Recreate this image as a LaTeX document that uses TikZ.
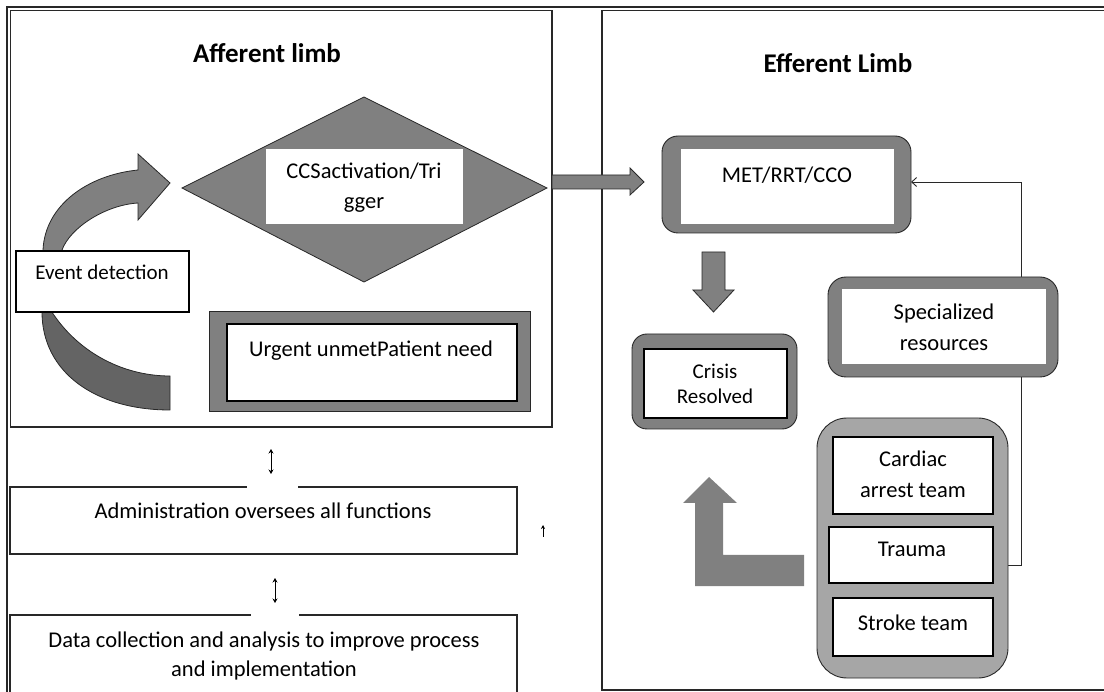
\documentclass[tikz,border=0pt]{standalone}
\usepackage{fontspec}
\setmainfont{Carlito}
\usetikzlibrary{arrows.meta,calc}

\definecolor{gmid}{RGB}{128,128,128}
\definecolor{gdark}{RGB}{100,100,100}
\definecolor{glight}{RGB}{166,166,166}
\definecolor{edge}{RGB}{40,40,40}

% rectangle node given by its corners: name, style, x1, y1, x2, y2
\newcommand\boxat[6]{%
  \node[#2,minimum width={#5-#3},minimum height={#6-#4}] (#1)
    at ({(#3+#5)/2},{(#4+#6)/2}) {};}

\begin{document}
\begin{tikzpicture}[x=1pt,y=-1pt,
  every node/.style={inner sep=0pt,outer sep=0pt},
  txt/.style={anchor=base,align=center,font=\fontsize{22.5}{30}\selectfont},
  heading/.style={anchor=base,font=\fontsize{27}{30}\selectfont\bfseries},
  frame/.style={draw=edge,line width=1.1pt},
  whitebox/.style={fill=white,draw=black,line width=1.2pt},
  plainbox/.style={fill=white},
  shell/.style={fill=gmid,draw=edge,line width=0.9pt,rounded corners=15pt},
  block/.style={fill=gmid,draw=edge,line width=0.8pt,line join=miter},
  fbline/.style={draw=edge,line width=0.9pt,-{Straight Barb[length=5pt,width=9pt]}},
  dbl/.style={draw=black,line width=0.8pt,{Stealth[length=4.5pt,width=5pt]}-{Stealth[length=4.5pt,width=5pt]}},
]
\useasboundingbox (0,0) rectangle (1104,692);
\clip (0,0) rectangle (1104,692);

% outer frame and the two panels
\draw[frame] (7,692) -- (7,7) -- (1104,7);
\boxat{aff}{frame}{10.5}{10.5}{552}{427}
\boxat{eff}{frame}{602}{10.5}{1112}{690}
\node[heading] (afft) at (267,63) {Afferent limb};
\node[heading] (efft) at (838,73) {Efferent Limb};

% ---------------- afferent limb ----------------
% trigger diamond
\coordinate (dW) at (182,188);
\coordinate (dN) at (364,97);
\coordinate (dE) at (547,188);
\coordinate (dS) at (364,282);
\filldraw[block] (dW) -- (dN) -- (dE) -- (dS) -- cycle;
\boxat{trig}{plainbox}{266}{149}{463}{224}
% multi-line labels sit on the baseline of their last line
\node[txt] (trigt) at (364,209) {CCSactivation/Tri\\gger};

% circular arrow: lower dark piece and upper piece with head
\filldraw[fill=gdark,draw=edge,line width=0.8pt]
  (42,296) -- (42,312) .. controls (42,372) and (95,410) .. (170,410)
  -- (170,376) arc[start angle=90,end angle=150,radius=141] -- cycle;
\coordinate (loopTip) at (170,183);
\filldraw[fill=gmid,draw=edge,line width=0.8pt]
  (43,265) -- (43,250) .. controls (45,205) and (88,175) .. (138,170)
  -- (138,154) -- (loopTip) -- (138,220) -- (138,203)
  .. controls (105,205) and (70,228) .. (62,250) -- (62,265) -- cycle;

% event detection
\boxat{event}{whitebox,line width=1.1pt}{16}{251}{189}{312}
\node[txt,font=\fontsize{21}{30}\selectfont] (eventt) at (102,280) {Event detection};

% urgent need
\boxat{urgo}{fill=gmid,draw=edge,line width=0.9pt}{209}{311}{530}{411}
\boxat{urg}{whitebox}{227}{324}{517}{401}
\node[txt] (urgt) at (371,357) {Urgent unmetPatient need};

% trigger -> team block arrow
\coordinate (a1s) at (552,182);
\filldraw[block] (a1s) ++(0,-7) -- ++(78,0) -- ++(0,-7) -- ++(14,14)
  -- ++(-14,13) -- ++(0,-6) -- ++(-78,0) -- cycle;

% ---------------- efferent limb ----------------
% feedback line from the teams back to MET/RRT/CCO
\coordinate (fbstart) at (1008,565);
\coordinate (fbtop) at (1021,182);

\boxat{met}{shell,rounded corners=16pt}{662}{136}{911}{233}
\draw[fbline] (fbstart) -| (fbtop) -- (met.east |- fbtop);
\boxat{metin}{plainbox}{681}{149}{894}{224}
\node[txt] (mett) at (787,183) {MET/RRT/CCO};

% down arrow
\coordinate (a2s) at (713.5,252);
\filldraw[block] (a2s) ++(-11.5,0) -- ++(23,0) -- ++(0,38) -- ++(9,0)
  -- ++(-20.5,22) -- ++(-20.5,-22) -- ++(9,0) -- cycle;

% crisis resolved
\boxat{crisiso}{shell}{632}{334}{797}{429}
\boxat{crisis}{whitebox}{644}{349}{787}{418}
\node[txt,font=\fontsize{21}{25}\selectfont] (crisist) at (715,404) {Crisis\\Resolved};

% specialized resources
\boxat{speco}{shell,rounded corners=18pt}{828}{277}{1058}{377}
\boxat{spec}{plainbox}{842}{289}{1046}{364}
\node[txt,font=\fontsize{22.5}{31}\selectfont] (spect) at (944,351) {Specialized\\resources};

% team container
\boxat{team}{shell,fill=glight,rounded corners=30pt}{817}{418}{1008}{678}
\boxat{card}{whitebox}{833}{437}{993}{514}
\boxat{trauma}{whitebox}{829}{527}{993}{583}
\boxat{stroke}{whitebox}{833}{598}{993}{656}
\node[txt,font=\fontsize{22.5}{31}\selectfont] (cardt) at (913,498) {Cardiac\\arrest team};
\node[txt] (traumat) at (912,557) {Trauma};
\node[txt] (stroket) at (913,630) {Stroke team};

% elbow arrow from the teams up to crisis resolved
\coordinate (a3s) at (804,570.5);
\fill[gmid] (a3s) ++(0,-15.5) -- ++(-81,0) -- ++(0,-52) -- ++(14,0)
  -- ++(-28,-26) -- ++(-26,26) -- ++(12,0) -- ++(0,83) -- ++(109,0) -- cycle;

% ---------------- administration and data ----------------
\boxat{admin}{}{10}{487}{517}{554}
\draw[frame] (298,487) -- (admin.north east) -- (admin.south east)
  -- (admin.south west) -- (admin.north west) -- (247,487);
\node[txt] (admint) at (263,519) {Administration oversees all functions};

\boxat{data}{}{10}{615}{517}{700}
\draw[frame] (299,615) -- (data.north east) -- (data.south east)
  -- (data.south west) -- (data.north west) -- (251,615);
\node[txt,font=\fontsize{22.5}{29}\selectfont] (datat) at (264,676)
  {Data collection and analysis to improve process\\and implementation};

\coordinate (u1a) at (271,449);
\coordinate (u1b) at (271,474);
\draw[dbl] (u1a) -- (u1b);
\coordinate (u2a) at (275,578);
\coordinate (u2b) at (275,603);
\draw[dbl] (u2a) -- (u2b);
\coordinate (u3a) at (543,537);
\coordinate (u3b) at (543,525);
\draw[black,line width=0.8pt,-{Stealth[length=4pt,width=4pt]}] (u3a) -- (u3b);
\end{tikzpicture}
\end{document}
